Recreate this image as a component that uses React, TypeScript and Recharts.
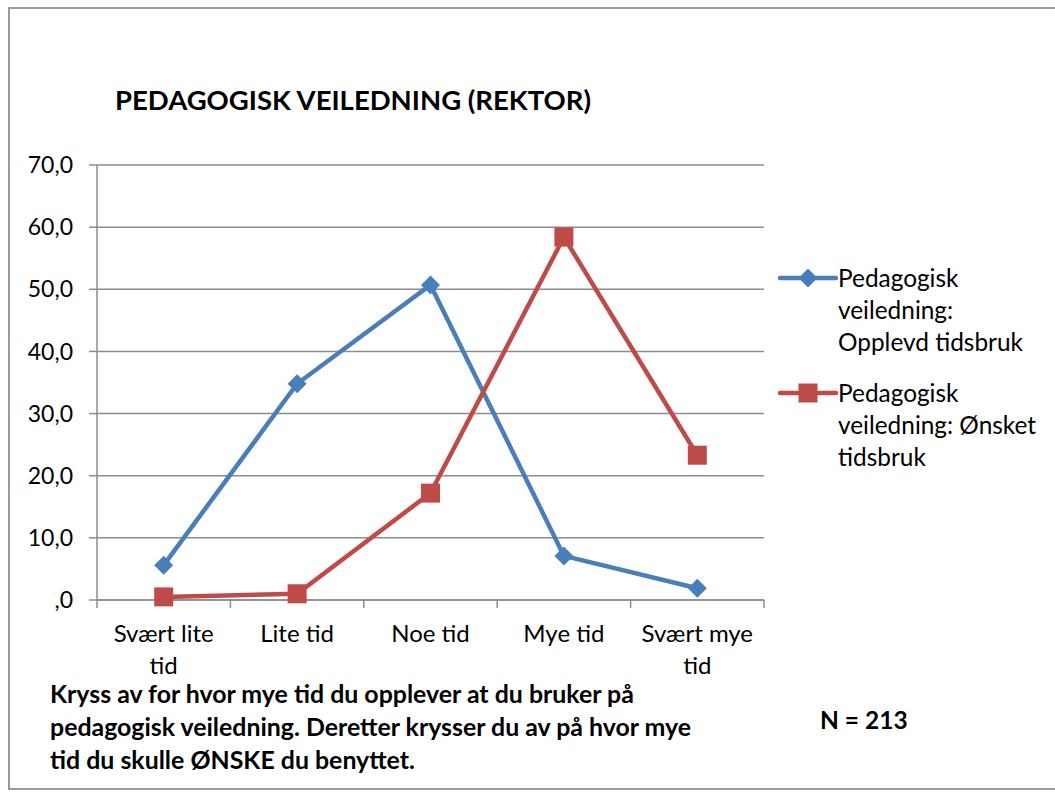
import { LineChart, Line, XAxis, YAxis, CartesianGrid, Legend } from 'recharts'

// ── data ─────────────────────────────────────────────────────────────────
const categories = ['Svært lite tid', 'Lite tid', 'Noe tid', 'Mye tid', 'Svært mye tid']
const categoryLines = [['Svært lite', 'tid'], ['Lite tid'], ['Noe tid'], ['Mye tid'], ['Svært mye', 'tid']]
const opplevd = [5.6, 34.8, 50.7, 7.1, 1.9]
const onsket = [0.5, 1.0, 17.2, 58.4, 23.3]
const yTicks = [0, 10, 20, 30, 40, 50, 60, 70]
const seriesNames = ['Pedagogisk veiledning: Opplevd tidsbruk', 'Pedagogisk veiledning: Ønsket tidsbruk']
const legendLines = [
  ['Pedagogisk', 'veiledning:', 'Opplevd tidsbruk'],
  ['Pedagogisk', 'veiledning: Ønsket', 'tidsbruk'],
]
const title = 'PEDAGOGISK VEILEDNING (REKTOR)'
const questionLines = [
  'Kryss av for hvor mye tid du opplever at du bruker på',
  'pedagogisk veiledning. Deretter krysser du av på hvor mye',
  'tid du skulle ØNSKE du benyttet.',
]
const nLabel = 'N = 213'

const data = categories.map((c, i) => ({ name: c, opplevd: opplevd[i], onsket: onsket[i] }))

// ── layout ───────────────────────────────────────────────────────────────
const W = 1055
const H = 796
const PLOT_LEFT = 97
const PLOT_RIGHT = 764
const PLOT_TOP = 165
const PLOT_BOTTOM = 600
const Y_AXIS_W = 90
const X_AXIS_H = 100
const STEP = (PLOT_RIGHT - PLOT_LEFT) / categories.length

const FONT = 'Lato, "Open Sans", sans-serif'
const BLUE = '#4A7EBB'
const RED = '#BE4B48'
const GRID = '#8c8c8c'

const fmt = (v: number) => (v === 0 ? ',0' : v.toFixed(1).replace('.', ','))

function Diamond({ cx, cy, fill }: { cx?: number; cy?: number; fill: string }) {
  if (cx == null || cy == null) return null
  const r = 9.5
  return <polygon points={`${cx},${cy - r} ${cx + r},${cy} ${cx},${cy + r} ${cx - r},${cy}`} fill={fill} />
}

function Square({ cx, cy, fill }: { cx?: number; cy?: number; fill: string }) {
  if (cx == null || cy == null) return null
  const s = 19
  return <rect x={cx - s / 2} y={cy - s / 2} width={s} height={s} fill={fill} />
}

// Category tick: label in the middle, tick marks on the band edges
function CategoryTick({ x, y, payload, index }: { x?: number; y?: number; payload?: { index: number }; index?: number }) {
  if (x == null || y == null || !payload) return null
  const lines = categoryLines[payload.index] ?? []
  return (
    <g>
      <line x1={x - STEP / 2} x2={x - STEP / 2} y1={y} y2={y + 8} stroke={GRID} strokeWidth={1.5} />
      {index === categories.length - 1 && (
        <line x1={x + STEP / 2} x2={x + STEP / 2} y1={y} y2={y + 8} stroke={GRID} strokeWidth={1.5} />
      )}
      <text x={x} y={y} textAnchor="middle" fill="#000" style={{ fontSize: 24, fontFamily: FONT }}>
        {lines.map((l, i) => (
          <tspan key={i} x={x} dy={i === 0 ? 42 : 32}>{l}</tspan>
        ))}
      </text>
    </g>
  )
}

function LegendBox() {
  const icons = [
    (y: number) => <Diamond cx={30} cy={y} fill={BLUE} />,
    (y: number) => <Square cx={30} cy={y} fill={RED} />,
  ]
  const colors = [BLUE, RED]
  return (
    <div style={{ fontFamily: FONT, fontSize: 24.4, color: '#000' }}>
      {seriesNames.map((name, i) => (
        <div key={name} title={name} style={{ display: 'flex', alignItems: 'flex-start', marginBottom: i === 0 ? 20 : 0 }}>
          <svg width={60} height={32} style={{ flex: 'none' }}>
            <line x1={2} x2={58} y1={15} y2={15} stroke={colors[i]} strokeWidth={4.5} strokeLinecap="round" />
            {icons[i](15)}
          </svg>
          <div style={{ lineHeight: '32px', marginTop: -1, whiteSpace: 'nowrap' }}>
            {legendLines[i].map((l) => (
              <div key={l}>{l}</div>
            ))}
          </div>
        </div>
      ))}
    </div>
  )
}

export default function App() {
  return (
    <div style={{ position: 'absolute', left: 0, top: 0, width: W, height: H, background: '#fff', overflow: 'hidden' }}>
      {/* chart frame, partly off-page like the reference */}
      <div style={{ position: 'absolute', left: 8, top: 7, width: 1100, height: 783, border: '2px solid #9a9a9a', boxSizing: 'border-box' }} />

      <div style={{ position: 'absolute', left: 115, top: 83, fontFamily: FONT, fontWeight: 700, fontSize: 27.5, whiteSpace: 'nowrap' }}>
        {title}
      </div>

      <LineChart
        width={W}
        height={H}
        data={data}
        margin={{ top: PLOT_TOP, right: W - PLOT_RIGHT, bottom: H - PLOT_BOTTOM - X_AXIS_H, left: PLOT_LEFT - Y_AXIS_W }}
        style={{ position: 'absolute', left: 0, top: 0 }}
      >
        <CartesianGrid horizontal vertical={false} stroke={GRID} strokeWidth={1.5} />
        <XAxis
          dataKey="name"
          scale="band"
          height={X_AXIS_H}
          interval={0}
          tickSize={0}
          tickMargin={0}
          tickLine={false}
          axisLine={{ stroke: GRID, strokeWidth: 1.5 }}
          tick={<CategoryTick />}
        />
        <YAxis
          width={Y_AXIS_W}
          domain={[0, 70]}
          ticks={yTicks}
          interval={0}
          tickFormatter={fmt}
          tickSize={8}
          tickMargin={16}
          axisLine={{ stroke: GRID, strokeWidth: 1.5 }}
          tickLine={{ stroke: GRID, strokeWidth: 1.5 }}
          tick={{ fill: '#000', fontSize: 23, fontFamily: FONT }}
        />
        <Legend
          layout="horizontal"
          align="center"
          verticalAlign="middle"
          content={<LegendBox />}
          wrapperStyle={{ left: 778, top: 263, width: 277 }}
        />
        <Line
          dataKey="opplevd"
          name={seriesNames[0]}
          stroke={BLUE}
          strokeWidth={4.5}
          dot={<Diamond fill={BLUE} />}
          activeDot={false}
          isAnimationActive={false}
        />
        <Line
          dataKey="onsket"
          name={seriesNames[1]}
          stroke={RED}
          strokeWidth={4.5}
          dot={<Square fill={RED} />}
          activeDot={false}
          isAnimationActive={false}
        />
      </LineChart>

      <div style={{ position: 'absolute', left: 50, top: 677, fontFamily: FONT, fontWeight: 700, fontSize: 24.9, lineHeight: '33px', whiteSpace: 'nowrap' }}>
        {questionLines.map((l) => (
          <div key={l}>{l}</div>
        ))}
      </div>
      <div style={{ position: 'absolute', left: 820, top: 705, fontFamily: FONT, fontWeight: 700, fontSize: 24.5, whiteSpace: 'nowrap' }}>
        {nLabel}
      </div>
    </div>
  )
}
